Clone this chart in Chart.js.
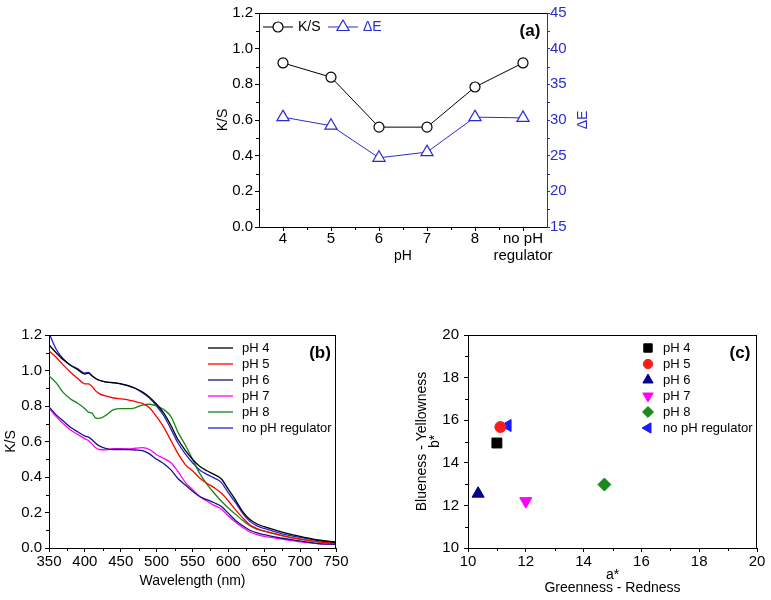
<!DOCTYPE html>
<html>
<head>
<meta charset="utf-8">
<script src="https://cdn.jsdelivr.net/npm/chart.js@4.4.1/dist/chart.umd.min.js"></script>
<style>
  body { margin: 0; background: #fff; width: 771px; height: 600px; position: relative; overflow: hidden; }
  canvas { position: absolute; }
</style>
</head>
<body>
<canvas id="chartA" width="400" height="275" style="left:200px;top:0px"></canvas>
<canvas id="chartB" width="385" height="290" style="left:0px;top:310px"></canvas>
<canvas id="chartC" width="381" height="290" style="left:390px;top:310px"></canvas>
<script>
// ---- data ----
// (a) K/S and colour difference against pH
const phLabels = ['4', '5', '6', '7', '8', ['no pH', 'regulator']];
const ksByPh = [0.92, 0.84, 0.56, 0.56, 0.785, 0.92];
const deltaEByPh = [30.4, 29.2, 24.7, 25.5, 30.4, 30.3];

// (b) K/S spectra
const wavelengths = [350, 360, 370, 380, 390, 400, 405, 410, 415, 420, 430, 440, 450, 460, 470, 480, 490, 500, 510, 520,
  530, 540, 550, 560, 570, 580, 590, 600, 610, 620, 630, 640, 650, 675, 700, 725, 750];
const ksPh4 = [1.145, 1.10, 1.06, 1.03, 1.005, 0.98, 0.985, 0.97, 0.955, 0.945, 0.935, 0.932, 0.925, 0.915, 0.90, 0.88, 0.85, 0.81, 0.76, 0.69,
  0.61, 0.55, 0.50, 0.46, 0.435, 0.415, 0.39, 0.33, 0.27, 0.205, 0.16, 0.135, 0.12, 0.09, 0.065, 0.045, 0.033];
const ksPh5 = [1.11, 1.075, 1.03, 0.99, 0.955, 0.925, 0.925, 0.91, 0.885, 0.87, 0.855, 0.845, 0.84, 0.835, 0.825, 0.815, 0.79, 0.74, 0.68, 0.605,
  0.53, 0.47, 0.435, 0.395, 0.365, 0.34, 0.31, 0.265, 0.215, 0.17, 0.13, 0.11, 0.095, 0.07, 0.05, 0.035, 0.025];
const ksPh6 = [0.795, 0.75, 0.715, 0.68, 0.655, 0.63, 0.625, 0.61, 0.59, 0.575, 0.56, 0.555, 0.555, 0.555, 0.552, 0.548, 0.53, 0.50, 0.475, 0.44,
  0.39, 0.355, 0.32, 0.29, 0.272, 0.255, 0.235, 0.195, 0.155, 0.125, 0.10, 0.085, 0.075, 0.055, 0.04, 0.025, 0.02];
const ksPh7 = [0.79, 0.74, 0.70, 0.665, 0.64, 0.615, 0.605, 0.585, 0.565, 0.555, 0.553, 0.56, 0.56, 0.558, 0.562, 0.565, 0.555, 0.525, 0.505, 0.48,
  0.43, 0.37, 0.33, 0.29, 0.265, 0.24, 0.22, 0.18, 0.145, 0.115, 0.09, 0.075, 0.065, 0.05, 0.035, 0.025, 0.02];
const ksPh8 = [0.97, 0.93, 0.875, 0.84, 0.815, 0.785, 0.765, 0.76, 0.732, 0.73, 0.75, 0.78, 0.785, 0.785, 0.79, 0.805, 0.81, 0.80, 0.78, 0.74,
  0.65, 0.58, 0.50, 0.42, 0.36, 0.31, 0.265, 0.225, 0.19, 0.155, 0.125, 0.105, 0.095, 0.07, 0.05, 0.035, 0.025];
const ksNoReg = [1.21, 1.12, 1.065, 1.03, 1.01, 0.985, 0.99, 0.97, 0.955, 0.945, 0.935, 0.93, 0.925, 0.915, 0.90, 0.875, 0.845, 0.80, 0.745, 0.67,
  0.59, 0.53, 0.48, 0.44, 0.415, 0.395, 0.37, 0.31, 0.255, 0.195, 0.15, 0.125, 0.11, 0.08, 0.06, 0.042, 0.03];

// (c) CIELab a*, b*
const sampleNames = ['pH 4', 'pH 5', 'pH 6', 'pH 7', 'pH 8', 'no pH regulator'];
const aStar = [11.0, 11.12, 10.35, 12.0, 14.72, 11.37];
const bStar = [14.93, 15.68, 12.55, 12.2, 12.98, 15.75];

// ---- look ----
const FONT = "'Liberation Sans', Arial, Helvetica, sans-serif";
Chart.defaults.font.family = FONT;
Chart.defaults.color = '#000';
Chart.defaults.animation = false;

const BLUE_A = '#2b2bd6';
const seriesColors = ['#000000', '#ff0000', '#14147e', '#ff00ff', '#128812', '#2020d8'];
const markerColors = ['#000000', '#ff1a1a', '#00008b', '#ff00ff', '#1a8a1a', '#1a1aff'];
const markerStyles = ['rect', 'circle', 'triangle', 'triangle', 'rectRot', 'triangle'];
const markerRotations = [0, 0, 0, 180, 0, -90];
const markerRadius = [7, 5.5, 7, 7, 6.5, 7];

function fixWidth(w) { return function (scale) { scale.width = w; }; }
function fixHeight(h) { return function (scale) { scale.height = h; }; }

function axisGrid(color, len) {
  return { drawOnChartArea: false, drawTicks: true, tickLength: len || 4, color: color, tickColor: color, lineWidth: 1 };
}

// small ticks between the labelled ones
function minorTicks(specs) {
  return {
    id: 'minorTicks',
    afterDraw(chart) {
      const ctx = chart.ctx;
      specs.forEach(function (s) {
        const scale = chart.scales[s.id];
        ctx.save();
        ctx.strokeStyle = s.color || '#000';
        ctx.lineWidth = 1;
        ctx.beginPath();
        for (let v = s.from; v <= s.to + 1e-9; v += s.step) {
          const p = Math.round(scale.getPixelForValue(v)) + 0.5;
          if (scale.isHorizontal()) {
            ctx.moveTo(p, scale.top); ctx.lineTo(p, scale.top + 3);
          } else if (scale.position === 'left') {
            ctx.moveTo(scale.right, p); ctx.lineTo(scale.right - 3, p);
          } else {
            ctx.moveTo(scale.left, p); ctx.lineTo(scale.left + 3, p);
          }
        }
        ctx.stroke();
        ctx.restore();
      });
    }
  };
}

// top / right edge of the box and free texts
function framePlugin(cfg) {
  return {
    id: 'frame',
    afterDraw(chart) {
      const a = chart.chartArea, ctx = chart.ctx;
      ctx.save();
      ctx.strokeStyle = '#000';
      ctx.lineWidth = 1;
      ctx.beginPath();
      ctx.moveTo(a.left, Math.round(a.top) + 0.5);
      ctx.lineTo(a.right, Math.round(a.top) + 0.5);
      if (cfg.right) {
        ctx.moveTo(Math.round(a.right) - 0.5, a.top);
        ctx.lineTo(Math.round(a.right) - 0.5, a.bottom);
      }
      ctx.stroke();
      ctx.fillStyle = '#000';
      ctx.font = 'bold 17px ' + FONT;
      ctx.textAlign = 'center';
      ctx.textBaseline = 'middle';
      ctx.fillText(cfg.tag, cfg.tagX, cfg.tagY);
      if (cfg.sideTitle) {
        ctx.translate(cfg.sideTitle.x, (a.top + a.bottom) / 2);
        ctx.rotate(-Math.PI / 2);
        ctx.fillStyle = cfg.sideTitle.color;
        ctx.font = '14px ' + FONT;
        ctx.fillText(cfg.sideTitle.text, 0, 0);
      }
      ctx.restore();
    }
  };
}

function legendPlugin(cfg) {
  return {
    id: 'panelLegend',
    afterDraw(chart) {
      const ctx = chart.ctx;
      ctx.save();
      ctx.font = cfg.fontSize + 'px ' + FONT;
      ctx.textBaseline = 'middle';
      ctx.textAlign = 'left';
      chart.data.datasets.forEach(function (ds, i) {
        const x = cfg.xs ? cfg.xs[i] : cfg.x;
        const y = cfg.xs ? cfg.y : cfg.y + i * cfg.dy;
        let tx = x;
        if (cfg.line) {
          ctx.strokeStyle = ds.borderColor;
          ctx.lineWidth = ds.borderWidth;
          ctx.beginPath();
          ctx.moveTo(x, y);
          ctx.lineTo(x + cfg.line, y);
          ctx.stroke();
          tx = x + cfg.line;
        }
        if (cfg.marker) {
          const mx = cfg.line ? x + cfg.line / 2 : x;
          ctx.fillStyle = ds.pointBackgroundColor;
          ctx.strokeStyle = ds.pointBorderColor;
          ctx.lineWidth = ds.pointBorderWidth || 1;
          Chart.helpers.drawPoint(ctx, {
            pointStyle: ds.pointStyle,
            rotation: ds.pointRotation || 0,
            radius: ds.pointRadius * cfg.marker,
            borderWidth: ds.pointBorderWidth || 1
          }, mx, y);
        }
        ctx.fillStyle = cfg.colorText ? ds.borderColor : '#000';
        ctx.fillText(ds.label, tx + cfg.gap, y);
      });
      ctx.restore();
    }
  };
}

// ---- (a) ----
new Chart(document.getElementById('chartA'), {
  type: 'line',
  data: {
    labels: phLabels,
    datasets: [{
      label: 'K/S',
      data: ksByPh,
      yAxisID: 'y',
      borderColor: '#000',
      borderWidth: 1,
      pointStyle: 'circle',
      pointRadius: 5,
      pointBackgroundColor: '#fff',
      pointBorderColor: '#000',
      pointBorderWidth: 1.2
    }, {
      label: 'ΔE',
      data: deltaEByPh,
      yAxisID: 'y1',
      borderColor: BLUE_A,
      borderWidth: 1,
      pointStyle: 'triangle',
      pointRadius: 7,
      pointBackgroundColor: '#fff',
      pointBorderColor: BLUE_A,
      pointBorderWidth: 1.2
    }]
  },
  options: {
    responsive: false,
    events: [],
    layout: { padding: { top: 13, right: 0, left: 0, bottom: 0 } },
    plugins: { legend: { display: false }, tooltip: { enabled: false } },
    scales: {
      x: {
        type: 'category',
        offset: true,
        grid: axisGrid('#000'),
        border: { color: '#000' },
        ticks: { autoSkip: false, padding: 0, font: { size: 15, lineHeight: 1.1 }, maxRotation: 0 },
        title: { display: true, text: 'pH', font: { size: 14 }, padding: { top: 0, bottom: 10.6 } },
        afterFit: fixHeight(48)
      },
      y: {
        position: 'left',
        min: 0, max: 1.2,
        grid: axisGrid('#000'),
        border: { color: '#000' },
        ticks: { stepSize: 0.2, padding: 2, font: { size: 15 }, callback: function (v) { return v.toFixed(1); } },
        title: { display: true, text: 'K/S', font: { size: 14 }, padding: { top: 14.6, bottom: 0 } },
        afterFit: fixWidth(59)
      },
      y1: {
        position: 'right',
        min: 15, max: 45,
        grid: axisGrid(BLUE_A, 3),
        border: { color: BLUE_A },
        ticks: { stepSize: 5, padding: 0, color: BLUE_A, font: { size: 15 } },
        afterFit: fixWidth(53)
      }
    }
  },
  plugins: [
    minorTicks([
      { id: 'y', from: 0.1, to: 1.1, step: 0.2 },
      { id: 'y1', from: 17.5, to: 42.5, step: 5, color: BLUE_A },
      { id: 'x', from: 0.5, to: 4.5, step: 1 }
    ]),
    framePlugin({ tag: '(a)', tagX: 330, tagY: 31, sideTitle: { x: 383, text: 'ΔE', color: BLUE_A } }),
    legendPlugin({ xs: [63, 128], y: 27, line: 30, marker: 1, gap: 5, fontSize: 14, colorText: true })
  ]
});

// ---- (b) ----
const spectra = [ksPh4, ksPh5, ksPh6, ksPh7, ksPh8, ksNoReg];
new Chart(document.getElementById('chartB'), {
  type: 'line',
  data: {
    datasets: spectra.map(function (vals, i) {
      return {
        label: sampleNames[i],
        data: wavelengths.map(function (w, j) { return { x: w, y: vals[j] }; }),
        borderColor: seriesColors[i],
        borderWidth: 1.3,
        pointRadius: 0,
        cubicInterpolationMode: 'monotone'
      };
    })
  },
  options: {
    responsive: false,
    events: [],
    layout: { padding: { top: 25, right: 49, left: 0, bottom: 0 } },
    plugins: { legend: { display: false }, tooltip: { enabled: false } },
    scales: {
      x: {
        type: 'linear',
        min: 350, max: 750,
        grid: axisGrid('#000'),
        border: { color: '#000' },
        ticks: { stepSize: 50, padding: 2, font: { size: 15, lineHeight: 1.1 }, maxRotation: 0 },
        title: { display: true, text: 'Wavelength (nm)', font: { size: 14 }, padding: { top: 0, bottom: 10.6 } },
        afterFit: fixHeight(52)
      },
      y: {
        min: 0, max: 1.2,
        grid: axisGrid('#000'),
        border: { color: '#000' },
        ticks: { stepSize: 0.2, padding: 3, font: { size: 15 }, callback: function (v) { return v.toFixed(1); } },
        title: { display: true, text: 'K/S', font: { size: 14 }, padding: { top: 2.6, bottom: 0 } },
        afterFit: fixWidth(49)
      }
    }
  },
  plugins: [
    minorTicks([
      { id: 'x', from: 375, to: 725, step: 50 },
      { id: 'y', from: 0.1, to: 1.1, step: 0.2 }
    ]),
    framePlugin({ tag: '(b)', tagX: 320, tagY: 43, right: true }),
    legendPlugin({ x: 208, y: 38, dy: 16, line: 25, gap: 9, fontSize: 13 })
  ]
});

// ---- (c) ----
new Chart(document.getElementById('chartC'), {
  type: 'scatter',
  data: {
    datasets: sampleNames.map(function (name, i) {
      return {
        label: name,
        data: [{ x: aStar[i], y: bStar[i] }],
        pointStyle: markerStyles[i],
        pointRotation: markerRotations[i],
        pointRadius: markerRadius[i],
        pointBackgroundColor: markerColors[i],
        pointBorderColor: markerColors[i],
        pointBorderWidth: 1,
        borderColor: markerColors[i]
      };
    })
  },
  options: {
    responsive: false,
    events: [],
    layout: { padding: { top: 25, right: 14, left: 0, bottom: 0 } },
    plugins: { legend: { display: false }, tooltip: { enabled: false } },
    scales: {
      x: {
        type: 'linear',
        min: 10, max: 20,
        grid: axisGrid('#000'),
        border: { color: '#000' },
        ticks: { stepSize: 2, padding: 2, font: { size: 15, lineHeight: 1.1 }, maxRotation: 0 },
        title: { display: true, text: ['a*', 'Greenness - Redness'], font: { size: 14, lineHeight: 0.95 }, padding: { top: 0, bottom: 5 } },
        afterFit: fixHeight(52)
      },
      y: {
        min: 10, max: 20,
        grid: axisGrid('#000'),
        border: { color: '#000' },
        ticks: { stepSize: 2, padding: 5, font: { size: 15 } },
        title: { display: true, text: ['Blueness - Yellowness', 'b*'], font: { size: 14, lineHeight: 0.95 }, padding: { top: 25.3, bottom: 0 } },
        afterFit: fixWidth(78)
      }
    }
  },
  plugins: [
    minorTicks([
      { id: 'x', from: 11, to: 19, step: 2 },
      { id: 'y', from: 11, to: 19, step: 2 }
    ]),
    framePlugin({ tag: '(c)', tagX: 350, tagY: 43, right: true }),
    legendPlugin({ x: 258, y: 38, dy: 16, marker: 0.85, gap: 15, fontSize: 13 })
  ]
});
</script>
</body>
</html>
